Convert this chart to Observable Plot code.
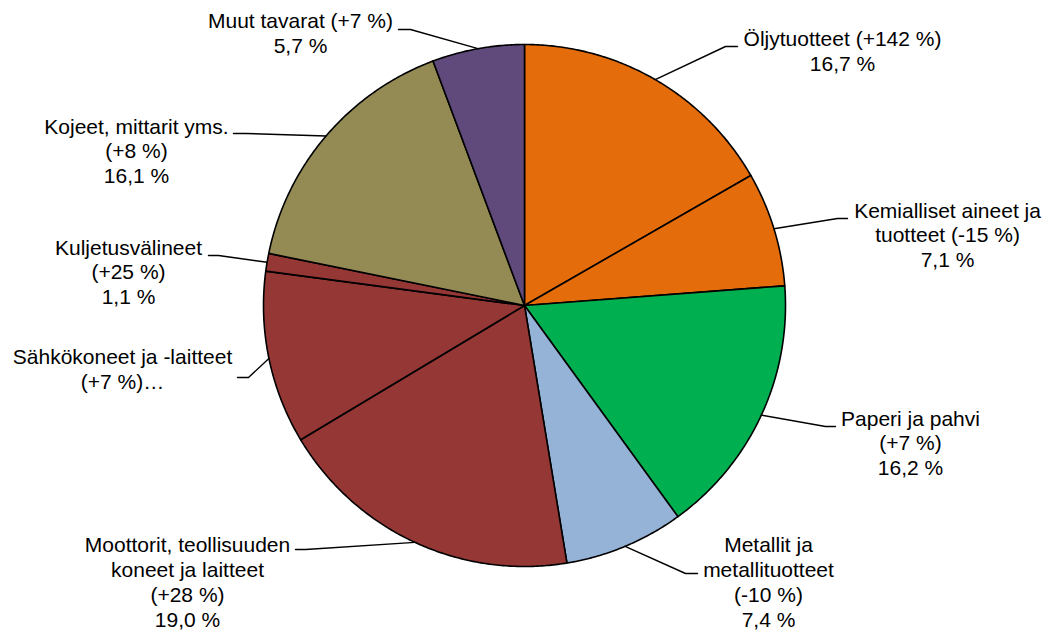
<!DOCTYPE html>
<html>
<head>
<meta charset="utf-8">
<script src="https://cdn.jsdelivr.net/npm/d3@7"></script>
<script src="https://cdn.jsdelivr.net/npm/@observablehq/plot@0.6"></script>
<style>
  html, body { margin: 0; padding: 0; background: #fff; }
  #chart { width: 1046px; height: 631px; }
</style>
</head>
<body>
<div id="chart"></div>
<script>
// ---- Data ----
const categories = [
  "Öljytuotteet",
  "Kemialliset aineet ja tuotteet",
  "Paperi ja pahvi",
  "Metallit ja metallituotteet",
  "Moottorit, teollisuuden koneet ja laitteet",
  "Sähkökoneet ja -laitteet",
  "Kuljetusvälineet",
  "Kojeet, mittarit yms.",
  "Muut tavarat"
];
const changes = ["+142 %", "-15 %", "+7 %", "-10 %", "+28 %", "+7 %", "+25 %", "+8 %", "+7 %"];
const shares = [16.7, 7.1, 16.2, 7.4, 19.0, 10.7, 1.1, 16.1, 5.7];

// ---- Styles / layout (not data) ----
const colors = ["#E46C0A", "#E46C0A", "#00B050", "#95B3D7", "#953735", "#953735", "#953735", "#948A54", "#604A7B"];
const nameLines = [
  "Öljytuotteet",
  "Kemialliset aineet ja\ntuotteet",
  "Paperi ja pahvi",
  "Metallit ja\nmetallituotteet",
  "Moottorit, teollisuuden\nkoneet ja laitteet",
  "Sähkökoneet ja -laitteet",
  "Kuljetusvälineet",
  "Kojeet, mittarit yms.",
  "Muut tavarat"
];
const joiners = [" ", " ", "\n", "\n", "\n", "\n", "\n", "\n", " "];
const truncated = [false, false, false, false, false, true, false, false, false];
// label block centres and leader elbows/ends, in pixels
const labelLayout = [
  {tx: 842, ty: 50,  elbow: [725, 46],  end: [737, 46]},
  {tx: 947, ty: 234, elbow: [837, 218], end: [847, 218]},
  {tx: 910, ty: 442, elbow: [825, 426], end: [835, 426]},
  {tx: 768, ty: 581, elbow: [685, 573], end: [697, 573]},
  {tx: 187, ty: 581, elbow: [305, 549], end: [295, 549]},
  {tx: 122, ty: 368, elbow: [248, 377], end: [237, 377]},
  {tx: 128, ty: 271, elbow: [218, 255], end: [208, 255]},
  {tx: 136, ty: 150, elbow: [245, 133], end: [233, 133]},
  {tx: 300, ty: 32,  elbow: [410, 29],  end: [398, 29]}
];

const CX = 524, CY = 305, R = 261;
const ux = px => (px - CX) / R;
const uy = py => (CY - py) / R;

const total = d3.sum(shares);
const fmt = v => v.toFixed(1).replace(".", ",") + " %";

const slicePts = [];
let cum = 0;
const mids = [];
shares.forEach((s, i) => {
  const a0 = cum / total * 2 * Math.PI;
  const a1 = (cum + s) / total * 2 * Math.PI;
  mids.push((a0 + a1) / 2);
  cum += s;
  slicePts.push({key: i, x: 0, y: 0, color: colors[i]});
  const n = Math.max(2, Math.ceil((a1 - a0) / (Math.PI / 360)));
  for (let k = 0; k <= n; k++) {
    const a = a0 + (a1 - a0) * k / n;
    slicePts.push({key: i, x: Math.sin(a), y: Math.cos(a), color: colors[i]});
  }
  slicePts.push({key: i, x: 0, y: 0, color: colors[i]});
});

const leaderPts = [];
labelLayout.forEach((L, i) => {
  const a = mids[i];
  leaderPts.push({key: i, x: Math.sin(a), y: Math.cos(a)});
  leaderPts.push({key: i, x: ux(L.elbow[0]), y: uy(L.elbow[1])});
  leaderPts.push({key: i, x: ux(L.end[0]), y: uy(L.end[1])});
});

const labels = categories.map((c, i) => ({
  x: ux(labelLayout[i].tx),
  y: uy(labelLayout[i].ty),
  text: nameLines[i] + joiners[i] + "(" + changes[i] + ")" + (truncated[i] ? "…" : "\n" + fmt(shares[i]))
}));

const chart = Plot.plot({
  width: 1046,
  height: 631,
  margin: 0,
  x: {domain: [-1, 1], range: [CX - R, CX + R], axis: null},
  y: {domain: [-1, 1], range: [CY + R, CY - R], axis: null},
  color: {type: "identity"},
  style: {fontFamily: "'Liberation Sans', Arial, sans-serif", background: "#fff"},
  marks: [
    Plot.line(slicePts, {x: "x", y: "y", z: "key", fill: "color", stroke: "#000", strokeWidth: 1.6, strokeLinejoin: "round"}),
    Plot.line(leaderPts, {x: "x", y: "y", z: "key", stroke: "#000", strokeWidth: 1.4}),
    Plot.text(labels, {x: "x", y: "y", text: "text", textAnchor: "middle", lineAnchor: "middle", lineHeight: 1.18, fontSize: 21, fill: "#000"})
  ]
});
document.getElementById("chart").appendChild(chart);
</script>
</body>
</html>
